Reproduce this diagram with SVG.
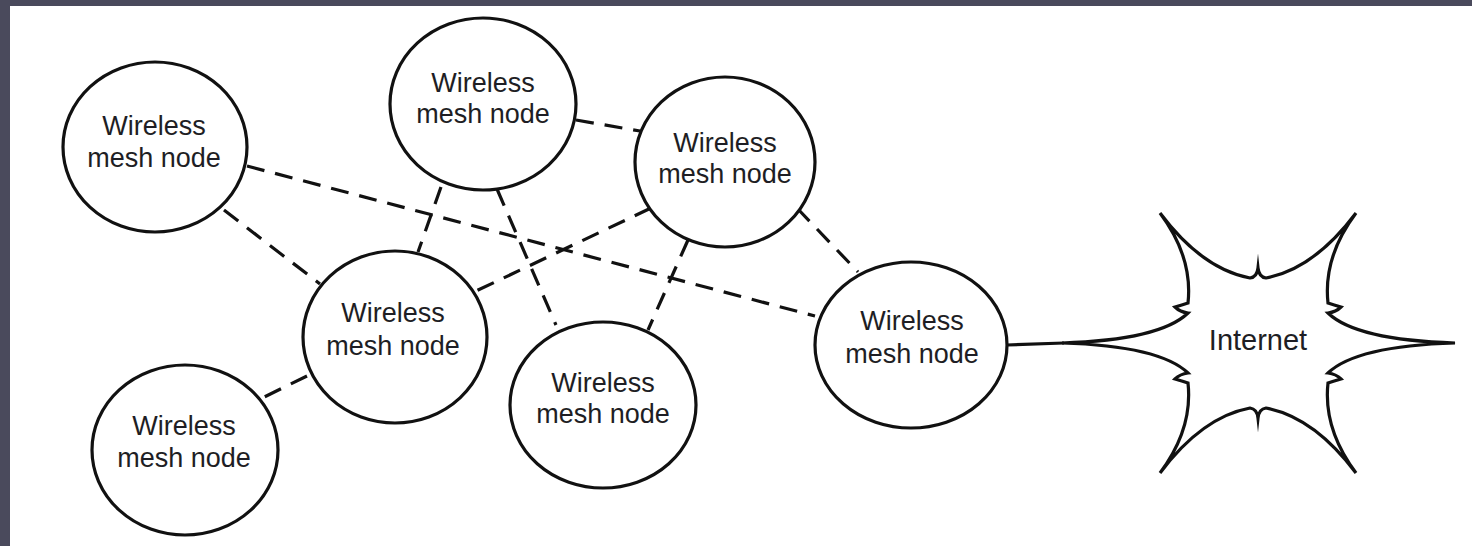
<svg xmlns="http://www.w3.org/2000/svg" width="1472" height="546" viewBox="0 0 1472 546">
<style>
.node ellipse{fill:#fff;stroke:#111;stroke-width:3.2}
.node text,.cloud text{font-family:"Liberation Sans",Arial,sans-serif;font-size:27px;fill:#1e1e24;text-anchor:middle}
.dash{stroke:#111;stroke-width:3.2;stroke-dasharray:18 11;fill:none}
.solid{stroke:#111;stroke-width:3.2;fill:none}
</style>
<rect x="0" y="0" width="1472" height="546" fill="#fff"/>
<rect x="0" y="0" width="1472" height="6" fill="#4a4a5c"/>
<rect x="0" y="0" width="10" height="546" fill="#4a4a5c"/>
<g id="connectors">
<line class="dash" x1="247" y1="166" x2="815" y2="316"/>
<line class="dash" x1="224" y1="210" x2="320" y2="284"/>
<line class="dash" x1="441" y1="187" x2="418" y2="252"/>
<line class="dash" x1="497" y1="189" x2="556" y2="325"/>
<line class="dash" x1="576" y1="120" x2="640" y2="131"/>
<line class="dash" x1="651" y1="208" x2="474" y2="292"/>
<line class="dash" x1="688" y1="240" x2="648" y2="330"/>
<line class="dash" x1="797" y1="208" x2="858" y2="272"/>
<line class="dash" x1="307" y1="376" x2="250" y2="404"/>
<line class="solid" x1="1007" y1="345" x2="1064" y2="343"/>
</g>
<g id="node1" class="node"><ellipse cx="155" cy="147" rx="92" ry="85"/><text x="154" y="135">Wireless</text><text x="154" y="167">mesh node</text></g>
<g id="node2" class="node"><ellipse cx="483" cy="104" rx="93" ry="86"/><text x="483" y="92">Wireless</text><text x="483" y="123">mesh node</text></g>
<g id="node3" class="node"><ellipse cx="725" cy="162" rx="90" ry="85"/><text x="725" y="152">Wireless</text><text x="725" y="183">mesh node</text></g>
<g id="node4" class="node"><ellipse cx="395" cy="337" rx="92" ry="86"/><text x="393" y="322">Wireless</text><text x="393" y="355">mesh node</text></g>
<g id="node5" class="node"><ellipse cx="603" cy="405" rx="93" ry="83"/><text x="603" y="392">Wireless</text><text x="603" y="423">mesh node</text></g>
<g id="node6" class="node"><ellipse cx="911" cy="345" rx="96" ry="83"/><text x="912" y="330">Wireless</text><text x="912" y="363">mesh node</text></g>
<g id="node7" class="node"><ellipse cx="185" cy="450" rx="93" ry="85"/><text x="184" y="435">Wireless</text><text x="184" y="467">mesh node</text></g>
<g id="internet" class="cloud">
<path fill="#fff" stroke="#111" stroke-width="3.2" stroke-linejoin="miter" stroke-miterlimit="20" d="M1062,343 Q1160,340 1188,313 Q1180,312 1175,307 Q1182,305 1188,303 Q1193,257 1160,213 Q1202,269 1250,278 Q1257,277 1258,268 Q1259,277 1266,278 Q1314,269 1356,213 Q1323,257 1328,303 Q1334,305 1341,307 Q1336,312 1328,313 Q1356,340 1455,343 Q1356,346 1328,373 Q1336,374 1341,379 Q1334,381 1328,383 Q1323,429 1356,473 Q1314,417 1266,408 Q1259,409 1258,418 Q1257,409 1250,408 Q1202,417 1160,473 Q1193,429 1188,383 Q1182,381 1175,379 Q1180,374 1188,373 Q1160,346 1062,343 Z"/>
<text x="1258" y="350" style="font-size:29px">Internet</text>
</g>
</svg>
